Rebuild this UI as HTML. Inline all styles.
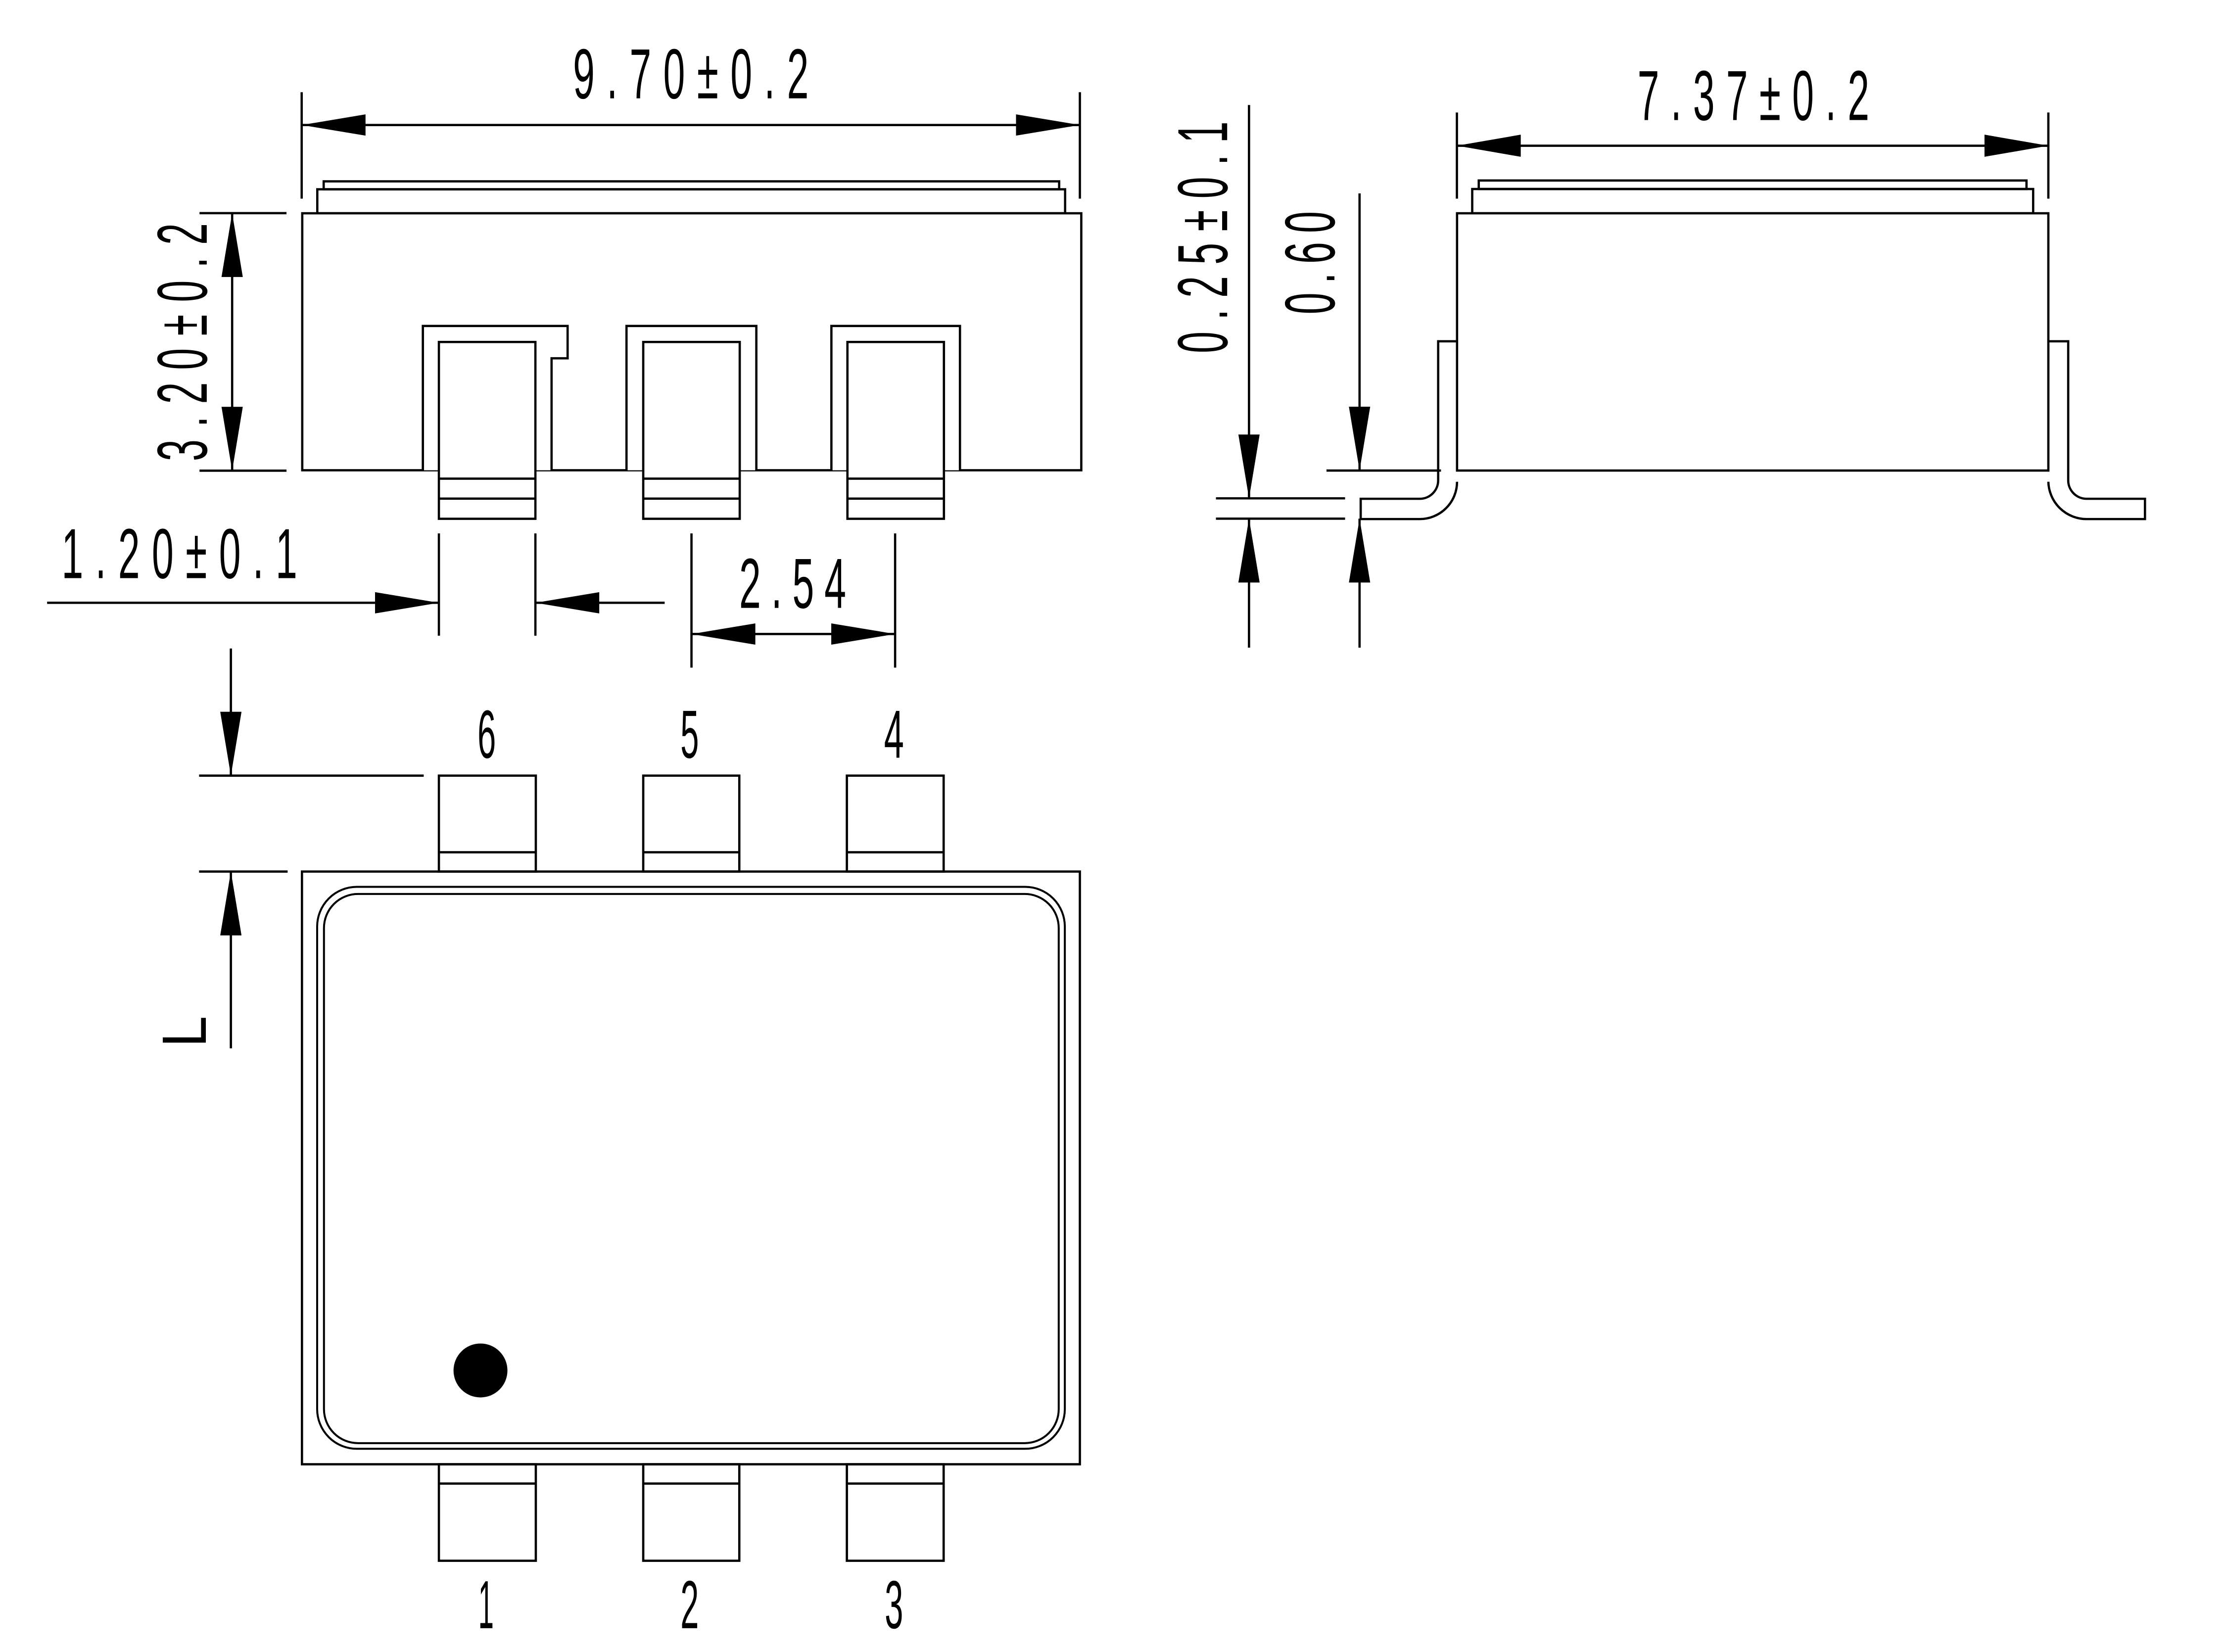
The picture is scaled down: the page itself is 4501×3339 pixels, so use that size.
<!DOCTYPE html>
<html><head><meta charset="utf-8"><style>
html,body{margin:0;padding:0;background:#fff;}
svg{display:block;}
text{font-family:"Liberation Sans",sans-serif;fill:#000;}
</style></head><body>
<svg width="4501" height="3339" viewBox="0 0 1569.4 1164.2" preserveAspectRatio="none" xmlns="http://www.w3.org/2000/svg">
<g fill="none" stroke="#000" stroke-width="1.6" stroke-linejoin="miter">
<!-- LEFT SIDE VIEW -->
<rect x="228.1" y="127.8" width="518.3" height="5.6"/>
<rect x="223.6" y="133.4" width="527" height="16.9"/>
<rect x="213" y="150.3" width="549" height="181.1" fill="#fff"/>
<path d="M298 331.4 V229.7 H400 V252.5 H388.7 V331.4" fill="#fff"/>
<path d="M441.5 331.4 V229.7 H533 V331.4" fill="#fff"/>
<path d="M585.9 331.4 V229.7 H676.5 V331.4" fill="#fff"/>
<rect x="309.3" y="241" width="68" height="124.6" fill="#fff"/>
<rect x="453.3" y="241" width="68" height="124.6" fill="#fff"/>
<rect x="597.2" y="241" width="68" height="124.6" fill="#fff"/>
<path d="M309.3 337.3H377.3M309.3 351.4H377.3M453.3 337.3H521.3M453.3 351.4H521.3M597.2 337.3H665.2M597.2 351.4H665.2"/>
<path d="M212.6 65V140M761 65V140M212.6 88.1H761"/>
<path d="M140.6 150.2H201.9M140.6 331.7H201.9M163.6 150.2V331.7"/>
<path d="M309.3 375.9V448M377.3 375.9V448M33.2 424.8H309.3M377.3 424.8H468.4"/>
<path d="M487.3 375.9V470.5M630.8 375.9V470.5M487.3 446.8H630.8"/>

<!-- RIGHT VIEW -->
<rect x="1042.1" y="127.2" width="386" height="6"/>
<rect x="1037.5" y="133.2" width="395.3" height="17.1"/>
<rect x="1026.8" y="150.3" width="416.7" height="181.3" fill="#fff"/>
<path d="M1026.8 240.5H1013.5V338.5A13 13 0 0 1 1000.5 351.5H958.9V365.8H1000.5A26.3 26.3 0 0 0 1026.8 339.5"/>
<path d="M1443.5 240.5H1457.5V338.5A13 13 0 0 0 1470.5 351.5H1511.6V365.8H1470.5A27 27 0 0 1 1443.5 339.5"/>
<path d="M1026.7 79.3V140M1443.5 79.3V140M1026.7 102.7H1443.5"/>
<path d="M880.2 74V351.2M856.9 351.2H947.9M856.9 365.5H947.9M880.2 365.5V456.4"/>
<path d="M958.1 136.3V331.6M934.8 331.6H1015.5M958.1 365.5V456.4"/>

<!-- BOTTOM VIEW -->
<rect x="309.3" y="546.6" width="68.3" height="67.6"/>
<rect x="453.3" y="546.6" width="67.7" height="67.6"/>
<rect x="596.8" y="546.6" width="68.2" height="67.6"/>
<path d="M309.3 600.6H377.6M453.3 600.6H521M596.8 600.6H665"/>
<rect x="309.3" y="1031.9" width="68.3" height="68"/>
<rect x="453.3" y="1031.9" width="67.7" height="68"/>
<rect x="596.8" y="1031.9" width="68.2" height="68"/>
<path d="M309.3 1045.5H377.6M453.3 1045.5H521M596.8 1045.5H665"/>
<rect x="212.8" y="614.2" width="548.2" height="417.7"/>
<rect x="223.5" y="625" width="526.9" height="396" rx="28" ry="28" stroke-width="1.4"/>
<rect x="228.3" y="630" width="517.8" height="387" rx="24" ry="24" stroke-width="1.4"/>
<path d="M162.7 457V546.6M140.3 546.6H298.6M140.3 614.2H202.7M162.7 614.2V738.8"/>
</g>
<circle cx="338.6" cy="965.8" r="19" fill="#000"/>

<g fill="#000">
<path d="M212.6 88.1l45 -7.5v15z"/>
<path d="M761 88.1l-45 -7.5v15z"/>
<path d="M163.6 150.2l-7.5 45h15z"/>
<path d="M163.6 331.7l-7.5 -45h15z"/>
<path d="M309.3 424.8l-45 -7.5v15z"/>
<path d="M377.3 424.8l45 -7.5v15z"/>
<path d="M487.3 446.8l45 -7.5v15z"/>
<path d="M630.8 446.8l-45 -7.5v15z"/>
<path d="M1026.7 102.7l45 -7.8v15.6z"/>
<path d="M1443.5 102.7l-45 -7.8v15.6z"/>
<path d="M880.2 351.2l-7.5 -45h15z"/>
<path d="M880.2 365.5l-7.5 45h15z"/>
<path d="M958.1 331.6l-7.5 -45h15z"/>
<path d="M958.1 365.5l-7.5 45h15z"/>
<path d="M162.7 546.6l-7.5 -45h15z"/>
<path d="M162.7 614.2l-7.5 45h15z"/>
</g>

<g font-size="50">
<text transform="translate(403.8,69.3) scale(0.55,1)" textLength="302" lengthAdjust="spacing">9.70±0.2</text>
<text transform="translate(43.4,407.4) scale(0.55,1)" textLength="302" lengthAdjust="spacing">1.20±0.1</text>
<text transform="translate(520.9,428.4) scale(0.55,1)" textLength="137" lengthAdjust="spacing">2.54</text>
<text transform="translate(1154,84.6) scale(0.55,1)" textLength="297" lengthAdjust="spacing">7.37±0.2</text>
<text transform="translate(145.7,325) rotate(-90) scale(0.55,1)" textLength="305" lengthAdjust="spacing">3.20±0.2</text>
<text transform="translate(864.8,248.9) rotate(-90) scale(0.55,1)" textLength="297" lengthAdjust="spacing">0.25±0.1</text>
<text transform="translate(940.4,221.5) rotate(-90) scale(0.55,1)" textLength="132" lengthAdjust="spacing">0.60</text>
<text transform="translate(145,738) rotate(-90)" x="0" y="0" textLength="22" lengthAdjust="spacingAndGlyphs" font-size="44">L</text>
<text x="336.5" y="534" textLength="13" lengthAdjust="spacingAndGlyphs" font-size="48">6</text>
<text x="479.5" y="534" textLength="13" lengthAdjust="spacingAndGlyphs" font-size="48">5</text>
<text x="623" y="534" textLength="14" lengthAdjust="spacingAndGlyphs" font-size="48">4</text>
<text x="337" y="1147.4" textLength="11" lengthAdjust="spacingAndGlyphs" font-size="48">1</text>
<text x="479.5" y="1147.4" textLength="13" lengthAdjust="spacingAndGlyphs" font-size="48">2</text>
<text x="623.5" y="1147.4" textLength="13" lengthAdjust="spacingAndGlyphs" font-size="48">3</text>
</g>
</svg>
</body></html>
